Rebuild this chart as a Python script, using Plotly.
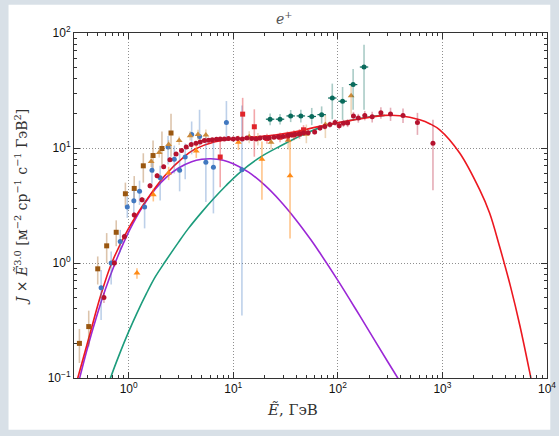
import math
import plotly.graph_objects as go

# ---------------- data ----------------
# dark red circles
E_ams = [0.58, 0.73, 0.91, 1.13, 1.34, 1.6, 1.87, 2.16, 2.48, 2.84, 3.2, 3.55, 3.96, 4.4, 4.83, 5.3, 5.8, 6.3,
         6.9, 7.5, 8.2, 9.0, 10.0, 11.0, 12.2, 13.5, 15.0, 16.5, 18.0, 20.0, 22.0, 24.5, 27.0, 30.0, 33.6, 36.0,
         39.0, 43.0, 47.0, 52.0, 60.0, 67.5, 75.0, 84.0, 94.0, 103, 113, 124, 141, 157, 181, 213, 258, 319, 420,
         577, 812]
V_ams = [0.50, 1.00, 1.70, 2.61, 3.55, 4.70, 5.75, 6.87, 7.90, 8.87, 9.50, 10.2, 10.7, 11.0, 11.3, 11.6, 11.7,
         11.8, 11.9, 12.0, 12.0, 12.1, 12.0, 12.1, 12.0, 12.2, 12.1, 12.0, 12.2, 12.3, 12.2, 12.4, 12.5, 12.6,
         12.9, 13.0, 13.2, 13.3, 13.5, 13.6, 13.8, 14.9, 15.4, 16.0, 16.7, 15.6, 16.4, 16.5, 19.0, 18.2, 19.2,
         18.7, 20.3, 19.8, 19.2, 16.7, 11.0]
H_ams = [0.05, 0.07, 0.1, 0.15, 0.2, 0.25, 0.3, 0.3, 0.35, 0.35, 0.35, 0.35, 0.4, 0.4, 0.4, 0.4, 0.4, 0.4, 0.4,
         0.4, 0.4, 0.4, 0.4, 0.4, 0.4, 0.4, 0.4, 0.4, 0.45, 0.45, 0.45, 0.5, 0.5, 0.5, 0.55, 0.55, 0.6, 0.6,
         0.65, 0.7, 0.7, 0.8, 0.9, 1.0, 1.1, 1.1, 1.2, 1.3, 1.6, 1.6, 1.8, 2.0, 2.3, 2.6, 2.8, 3.5, 6.6]
L_ams = [0.05, 0.07, 0.1, 0.15, 0.2, 0.25, 0.3, 0.3, 0.35, 0.35, 0.35, 0.35, 0.4, 0.4, 0.4, 0.4, 0.4, 0.4, 0.4,
         0.4, 0.4, 0.4, 0.4, 0.4, 0.4, 0.4, 0.4, 0.4, 0.45, 0.45, 0.45, 0.5, 0.5, 0.5, 0.55, 0.55, 0.6, 0.6,
         0.65, 0.7, 0.7, 0.8, 0.9, 1.0, 1.1, 1.1, 1.2, 1.3, 1.6, 1.6, 1.8, 2.0, 2.3, 2.6, 2.7, 3.7, 6.7]

# blue circles
E_blue = [0.545, 0.68, 0.83, 0.97, 1.12, 1.27, 1.42, 1.67, 2.0, 2.38, 2.73, 3.07, 3.47, 4.0, 4.76, 5.47, 6.46, 8.6, 12.1]
V_blue = [0.61, 1.0, 1.54, 3.07, 3.48, 4.2, 3.07, 6.4, 5.5, 10.2, 8.0, 6.4, 8.35, 13.1, 12.6, 7.5, 6.8, 16.7, 6.47]
H_blue = [0.26, 0.26, 0.4, 0.7, 0.8, 1.0, 0.6, 1.5, 1.5, 2.5, 2.5, 2.6, 2.6, 3.9, 8.9, 5.1, 4.5, 8.9, 17.0]
L_blue = [0.29, 0.35, 0.3, 0.6, 0.8, 1.0, 1.07, 1.5, 2.0, 3.0, 2.0, 2.2, 3.0, 4.3, 2.3, 4.1, 4.1, 5.2, 6.12]

# brown squares
E_brown = [0.338, 0.415, 0.506, 0.616, 0.76, 0.93, 1.13, 1.38, 1.71, 2.08, 2.54]
V_brown = [0.20, 0.28, 0.89, 1.41, 1.85, 4.0, 4.45, 7.0, 8.6, 9.9, 13.5]
H_brown = [0.067, 0.105, 0.25, 0.41, 0.5, 1.0, 1.25, 2.0, 3.0, 4.0, 6.4]
L_brown = [0.065, 0.092, 0.24, 0.41, 0.45, 0.9, 1.15, 2.0, 2.5, 2.8, 5.1]

# tan triangles
E_tan = [1.64, 1.96, 2.41, 3.04, 3.87, 4.6, 5.47, 14.2, 17.2, 23.0, 33.5, 50.0, 76.0, 134.0]
V_tan = [7.65, 9.16, 10.7, 11.6, 12.8, 13.1, 13.0, 12.5, 12.0, 11.2, 11.7, 13.2, 16.0, 28.5]
H_tan = [0.8, 0.9, 1.0, 1.0, 1.2, 1.3, 1.5, 1.5, 1.5, 1.5, 2.0, 2.8, 3.5, 7.7]
L_tan = [0.8, 0.9, 1.0, 1.0, 1.2, 1.3, 1.5, 1.5, 1.5, 1.5, 2.0, 2.2, 3.8, 9.0]

# orange triangles
E_orange = [1.2, 1.72, 2.41, 4.43, 11.2, 18.8, 34.9]
V_orange = [0.82, 3.93, 6.06, 9.4, 11.2, 8.0, 5.75]
H_orange = [0.08, 0.5, 0.8, 1.2, 1.6, 3.4, 6.0]
L_orange = [0.09, 0.5, 0.8, 1.2, 1.6, 4.45, 4.12]

# red squares
E_rsq = [7.5, 12.3, 15.9, 21.0, 28.0, 33.0, 38.0, 43.0, 47.0]
V_rsq = [8.35, 19.7, 15.3, 12.1, 12.4, 12.7, 13.0, 13.3, 14.4]
H_rsq = [3.4, 7.6, 6.4, 1.2, 1.2, 1.2, 1.3, 1.3, 1.4]
L_rsq = [3.8, 7.5, 6.9, 1.2, 1.2, 1.2, 1.3, 1.3, 1.4]

# teal points
E_teal = [22.5, 28.0, 35.4, 44.3, 56.3, 70.0, 88.5, 111.0, 140.0, 178.0]
V_teal = [17.8, 17.8, 19.0, 19.0, 18.8, 19.5, 27.2, 25.5, 35.6, 50.6]
H_teal = [2.2, 2.0, 2.4, 2.5, 3.5, 3.5, 9.1, 8.4, 13.0, 28.4]
L_teal = [2.0, 1.8, 2.2, 2.3, 3.0, 3.2, 9.4, 7.9, 14.1, 29.1]

# model curves
E_total = [0.31, 0.326, 0.437, 0.537, 0.688, 0.977, 1.41, 2.19, 3.4, 4.3, 6.7, 10.4, 16, 25, 39, 65, 134, 280,
           391, 607, 764, 942, 1462, 2270, 2826, 3520, 4500, 5500, 6810, 7400]
V_total = [0.085, 0.1, 0.263, 0.513, 1.0, 1.93, 3.31, 5.69, 8.41, 9.77, 11.35, 12.0, 12.45, 12.97, 13.8, 15.35,
           17.4, 19.2, 19.1, 17.6, 16.2, 14.4, 9.05, 4.34, 2.72, 1.39, 0.614, 0.286, 0.114, 0.078]

E_second = [0.62, 0.67, 0.82, 1.0, 1.2, 1.48, 1.8, 2.24, 3.0, 3.73, 5.0, 6.47, 8.5, 11.6, 18.0, 28.2, 48.5, 75.0,
            134.0, 210.0, 280.0]
V_second = [0.08, 0.1, 0.163, 0.253, 0.367, 0.544, 0.76, 1.03, 1.52, 2.0, 2.77, 3.62, 4.7, 6.15, 8.3, 10.4,
            13.3, 15.5, 17.4, 18.8, 19.2]

E_primary = [0.32, 0.34, 0.4, 0.5, 0.6, 0.742, 0.9, 1.1, 1.4, 1.8, 2.3, 3.0, 4.0, 5.0, 6.1, 8.0, 10.0, 14.0, 20.0,
             28.0, 39.0, 55.0, 67.5, 100, 150, 220, 300, 374, 420]
V_primary = [0.080, 0.1, 0.177, 0.356, 0.593, 1.0, 1.52, 2.21, 3.22, 4.41, 5.58, 6.70, 7.59, 7.97, 8.07, 7.83,
             7.31, 6.17, 4.75, 3.48, 2.43, 1.60, 1.22, 0.706, 0.390, 0.220, 0.1385, 0.1, 0.0846]

x_ticks = [1, 10, 100, 1000, 10000]
x_ticktext = ["10<sup>0</sup>", "10<sup>1</sup>", "10<sup>2</sup>", "10<sup>3</sup>", "10<sup>4</sup>"]
y_ticks = [0.1, 1, 10, 100]
y_ticktext = ["10<sup>\u22121</sup>", "10<sup>0</sup>", "10<sup>1</sup>", "10<sup>2</sup>"]

# ---------------- figure ----------------
fig = go.Figure()

curve_line = dict(width=1.6, shape="spline", smoothing=1.0)
fig.add_trace(go.Scatter(x=E_primary, y=V_primary, mode="lines", line=dict(color="#9b27d6", **curve_line), showlegend=False))
fig.add_trace(go.Scatter(x=E_second, y=V_second, mode="lines", line=dict(color="#1c9c7c", **curve_line), showlegend=False))
fig.add_trace(go.Scatter(x=E_total, y=V_total, mode="lines", line=dict(color="#ec1820", **curve_line), showlegend=False))


def pts(x, y, hi, lo, color, ecolor, symbol, size):
    return go.Scatter(
        x=x, y=y, mode="markers", showlegend=False,
        marker=dict(color=color, symbol=symbol, size=size, line=dict(width=0)),
        error_y=dict(type="data", array=hi, arrayminus=lo, symmetric=False, color=ecolor, thickness=1.6, width=0),
    )


fig.add_trace(pts(E_brown, V_brown, H_brown, L_brown, "#9a5710", "rgba(154,87,16,0.35)", "square", 5))
fig.add_trace(pts(E_blue, V_blue, H_blue, L_blue, "#4178c0", "rgba(65,120,192,0.35)", "circle", 5))
fig.add_trace(pts(E_tan, V_tan, H_tan, L_tan, "#cc8a3a", "rgba(204,138,58,0.35)", "triangle-up", 6))
fig.add_trace(pts(E_orange, V_orange, H_orange, L_orange, "#ff8b17", "rgba(255,139,23,0.5)", "triangle-up", 6))
fig.add_trace(pts(E_rsq, V_rsq, H_rsq, L_rsq, "#e0242a", "rgba(224,36,42,0.4)", "square", 5))
fig.add_trace(pts(E_teal, V_teal, H_teal, L_teal, "#0a6b5c", "rgba(10,107,92,0.35)", "circle", 5))
fig.add_trace(go.Scatter(x=E_teal, y=V_teal, mode="markers", showlegend=False,
                         marker=dict(symbol="line-ew-open", size=6, color="#0a6b5c", line=dict(color="#0a6b5c", width=1.2))))
fig.add_trace(pts(E_ams, V_ams, H_ams, L_ams, "#b5122e", "rgba(181,18,46,0.35)", "circle", 5))

W, H = 559, 436
ml, mr, mt, mb = 73.5, 12.3, 33.3, 57.7
pw, ph = W - ml - mr, H - mt - mb


def px2paper_x(p):
    return (p - ml) / pw


def px2paper_y(p):
    return (H - mb - p) / ph


minor_x = [m * 10 ** k for k in range(-1, 4) for m in range(2, 10) if 0.3 <= m * 10 ** k <= 10000]
minor_y = [m * 10 ** k for k in range(-1, 2) for m in range(2, 10)]

axis_common = dict(
    type="log", showline=True, linecolor="#333333", linewidth=1, mirror="allticks",
    ticks="inside", ticklen=6, tickcolor="#333333", tickwidth=1, automargin=False,
    showgrid=True, gridcolor="#8f8f8f", griddash="1px,2px", gridwidth=1,
    zeroline=False, tickfont=dict(family="Liberation Sans, Arial, sans-serif", size=12, color="#111111"),
)

fig.update_xaxes(
    range=[math.log10(0.3), 4], tickmode="array", tickvals=x_ticks, ticktext=x_ticktext,
    minor=dict(tickmode="array", tickvals=minor_x, ticks="inside", ticklen=3, tickcolor="#333333", showgrid=False),
    **axis_common,
)
fig.update_yaxes(
    range=[-1, 2], tickmode="array", tickvals=y_ticks, ticktext=y_ticktext,
    minor=dict(tickmode="array", tickvals=minor_y, ticks="inside", ticklen=3, tickcolor="#333333", showgrid=False),
    **axis_common,
)

serif = "DejaVu Serif, Liberation Serif, serif"
fig.update_layout(
    width=W, height=H,
    margin=dict(l=ml, r=mr, t=mt, b=mb, pad=0, autoexpand=False),
    paper_bgcolor="#d8e0e7", plot_bgcolor="white",
    shapes=[dict(type="rect", xref="paper", yref="paper", layer="below",
                 x0=px2paper_x(8), x1=px2paper_x(550), y0=px2paper_y(430), y1=px2paper_y(5),
                 fillcolor="white", line=dict(width=0))],
    annotations=[
        dict(text="<i>e</i><sup>+</sup>", xref="paper", yref="paper", x=px2paper_x(284), y=px2paper_y(18),
             showarrow=False, xanchor="center", yanchor="middle", font=dict(family=serif, size=14, color="#555555")),
        dict(text="<i>J</i> \u00d7 <i>\u1ebc</i><sup>3.0</sup> [\u043c<sup>\u22122</sup> \u0441\u0440<sup>\u22121</sup> \u0441<sup>\u22121</sup> \u0413\u044d\u0412<sup>2</sup>]",
             xref="paper", yref="paper", x=px2paper_x(20), y=px2paper_y(208), textangle=-90,
             showarrow=False, xanchor="center", yanchor="middle", font=dict(family=serif, size=14, color="#333333")),
        dict(text="<i>\u1ebc</i>, \u0413\u044d\u0412", xref="paper", yref="paper", x=px2paper_x(292), y=px2paper_y(410),
             showarrow=False, xanchor="center", yanchor="middle", font=dict(family=serif, size=15, color="#333333")),
    ],
)

fig.write_html("out.html")
